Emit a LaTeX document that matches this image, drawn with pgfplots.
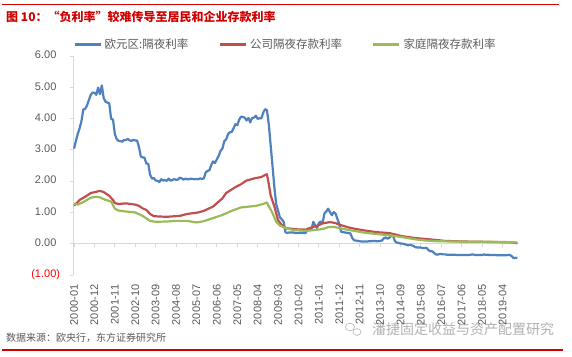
\documentclass[border=0pt]{standalone}
\usepackage{pgfplots}
\pgfplotsset{compat=1.18}
\usepackage{fontspec}
\setmainfont{Liberation Sans}
\newfontfamily\cjk{Noto Sans CJK SC}
\definecolor{eblue}{HTML}{4F81BD}
\definecolor{ered}{HTML}{C0504D}
\definecolor{egreen}{HTML}{9BBB59}
\definecolor{txtgray}{HTML}{595959}
\definecolor{axgray}{HTML}{D9D9D9}
\definecolor{hdred}{HTML}{D00000}
\begin{document}
\begin{tikzpicture}
\path[use as bounding box] (0pt,0pt) rectangle (572pt,356pt);
\draw[hdred, line width=1.1pt] (2pt,351.5pt) -- (559pt,351.5pt);
\draw[hdred, line width=1.1pt] (2pt,6pt) -- (563pt,6pt);
\node[anchor=west, inner sep=0pt, text=hdred] at (6pt,339pt) {\cjk\bfseries\fontsize{12}{14}\selectfont 图 10：“负利率”较难传导至居民和企业存款利率};
\node[anchor=west, inner sep=0pt, text=txtgray] at (6pt,18pt) {\cjk\fontsize{10}{12}\selectfont 数据来源：欧央行，东方证券研究所};
\node[anchor=west, inner sep=0pt, text=gray!60] at (372pt,27pt) {\cjk\fontsize{14}{16}\selectfont 潘捷固定收益与资产配置研究};
\draw[gray!60, line width=0.6pt] (350pt,29pt) ellipse (4.5pt and 3.8pt);
\draw[gray!60, line width=0.6pt] (357pt,24pt) ellipse (4pt and 3.4pt);
\begin{axis}[
  at={(73.1pt,81pt)}, anchor=south west,
  scale only axis, width=446.1pt, height=219pt,
  xmin=-0.5, xmax=240, ymin=-1, ymax=6,
  axis y line*=left, axis x line*=middle,
  hide obscured x ticks=false,
  axis line style={axgray, line width=0.8pt},
  ytick={-1,0,1,2,3,4,5,6},
  yticklabels={\textcolor{red}{(1.00)},0.00\phantom{)},1.00\phantom{)},2.00\phantom{)},3.00\phantom{)},4.00\phantom{)},5.00\phantom{)},6.00\phantom{)}},
  yticklabel style={anchor=east, xshift=-6pt, text=txtgray, font=\fontsize{11}{13}\selectfont},
  xtick={0,11,...,231},
  xticklabels={2000-01,2000-12,2001-11,2002-10,2003-09,2004-08,2005-07,2006-06,2007-05,2008-04,2009-03,2010-02,2011-01,2011-12,2012-11,2013-10,2014-09,2015-08,2016-07,2017-06,2018-05,2019-04},
  xticklabel style={rotate=90, anchor=east, text=txtgray, font=\fontsize{11}{13}\selectfont},
  xticklabel shift=34pt,
  tick style={axgray, line width=0.8pt},
  major tick length=3.5pt,
  tick align=outside,
  legend columns=3,
  legend style={at={(0,1.0525)}, anchor=west, draw=none, fill=none, inner sep=0pt,
    column sep=3pt, nodes={inner sep=0pt, text=txtgray, font=\cjk\fontsize{11.5}{13}\selectfont}},
  legend cell align=left,
  legend image code/.code={\draw[#1, line width=2.4pt] (0pt,0pt) -- (26pt,0pt);},
  every axis plot/.append style={line width=2.2pt, line join=round},
]
\addplot[eblue] table {
0 3.04
1 3.28
2 3.51
3 3.69
4 3.92
5 4.29
6 4.31
7 4.42
8 4.59
9 4.76
10 4.83
11 4.83
12 4.76
13 4.99
14 4.78
15 5.06
16 4.65
17 4.54
18 4.51
19 4.49
20 3.99
21 3.97
22 3.51
23 3.34
24 3.29
25 3.28
26 3.26
27 3.32
28 3.31
29 3.35
30 3.30
31 3.29
32 3.32
33 3.30
34 3.30
35 3.09
36 2.79
37 2.76
38 2.75
39 2.56
40 2.56
41 2.21
42 2.08
43 2.10
44 2.02
45 2.01
46 1.97
47 2.06
48 2.02
49 2.03
50 2.01
51 2.08
52 2.02
53 2.03
54 2.07
55 2.04
56 2.05
57 2.11
58 2.09
59 2.05
60 2.08
61 2.06
62 2.06
63 2.08
64 2.07
65 2.06
66 2.07
67 2.06
68 2.09
69 2.07
70 2.09
71 2.28
72 2.33
73 2.35
74 2.52
75 2.63
76 2.58
77 2.70
78 2.81
79 2.97
80 3.04
81 3.28
82 3.33
83 3.50
84 3.56
85 3.57
86 3.69
87 3.82
88 3.79
89 3.96
90 4.06
91 4.05
92 4.03
93 3.94
94 4.02
95 3.88
96 4.02
97 4.03
98 4.09
99 3.99
100 4.01
101 4.01
102 4.19
103 4.30
104 4.27
105 3.82
106 3.15
107 2.49
108 1.81
109 1.26
110 1.06
111 0.84
112 0.78
113 0.70
114 0.36
115 0.35
116 0.36
117 0.36
118 0.36
119 0.35
120 0.34
121 0.34
122 0.35
123 0.35
124 0.34
125 0.35
126 0.48
127 0.43
128 0.45
129 0.70
130 0.59
131 0.50
132 0.66
133 0.71
134 0.66
135 0.97
136 1.03
137 1.12
138 1.01
139 0.91
140 1.01
141 0.96
142 0.79
143 0.63
144 0.38
145 0.37
146 0.36
147 0.35
148 0.34
149 0.33
150 0.18
151 0.11
152 0.10
153 0.09
154 0.08
155 0.07
156 0.07
157 0.07
158 0.07
159 0.08
160 0.08
161 0.09
162 0.09
163 0.08
164 0.08
165 0.09
166 0.10
167 0.17
168 0.20
169 0.16
170 0.19
171 0.25
172 0.25
173 0.08
174 0.04
175 0.02
176 0.01
177 0.00
178 -0.01
179 -0.03
180 -0.05
181 -0.04
182 -0.05
183 -0.07
184 -0.11
185 -0.12
186 -0.12
187 -0.12
188 -0.14
189 -0.14
190 -0.13
191 -0.20
192 -0.24
193 -0.24
194 -0.29
195 -0.34
196 -0.35
197 -0.33
198 -0.33
199 -0.34
200 -0.34
201 -0.35
202 -0.35
203 -0.35
204 -0.35
205 -0.35
206 -0.36
207 -0.36
208 -0.36
209 -0.36
210 -0.36
211 -0.36
212 -0.36
213 -0.36
214 -0.35
215 -0.34
216 -0.36
217 -0.36
218 -0.36
219 -0.36
220 -0.36
221 -0.34
222 -0.36
223 -0.35
224 -0.36
225 -0.36
226 -0.36
227 -0.36
228 -0.37
229 -0.37
230 -0.37
231 -0.37
232 -0.37
233 -0.37
234 -0.36
235 -0.36
236 -0.40
237 -0.46
238 -0.45
239 -0.46
};
\addlegendentry{\makebox[111pt][l]{欧元区:隔夜利率}}
\addplot[ered] table {
0 1.22
2 1.33
3 1.40
6 1.50
9 1.62
12 1.66
14 1.69
16 1.65
19 1.53
21 1.40
22 1.30
24 1.27
28 1.29
33 1.25
35 1.21
37 1.13
39 1.08
41 0.95
43 0.88
46 0.87
50 0.86
57 0.89
61 0.95
67 1.00
70 1.05
75 1.19
80 1.45
82 1.62
87 1.81
90 1.90
93 2.02
98 2.10
101 2.13
103 2.20
104 2.22
105 1.90
106 1.55
108 1.19
110 0.75
112 0.60
114 0.50
117 0.48
120 0.46
125 0.45
128 0.52
131 0.57
134 0.65
138 0.69
141 0.66
143 0.61
148 0.52
152 0.47
157 0.42
163 0.37
170 0.34
177 0.24
184 0.18
190 0.15
195 0.12
200 0.09
210 0.07
220 0.06
230 0.05
237 0.04
239 0.01
};
\addlegendentry{\makebox[119pt][l]{公司隔夜存款利率}}
\addplot[egreen] table {
0 1.28
2 1.25
5 1.33
9 1.47
12 1.50
14 1.48
17 1.40
20 1.35
22 1.12
24 1.06
28 1.03
33 1.00
36 0.92
38 0.85
41 0.73
44 0.70
50 0.71
55 0.73
61 0.73
66 0.68
70 0.72
75 0.82
80 0.92
85 1.05
90 1.16
95 1.19
98 1.21
102 1.27
104 1.32
105 1.20
107 0.98
109 0.70
111 0.58
114 0.50
118 0.44
125 0.41
130 0.44
134 0.47
137 0.53
140 0.54
143 0.50
148 0.44
152 0.40
157 0.35
163 0.31
170 0.27
177 0.21
184 0.14
190 0.10
196 0.08
205 0.07
215 0.06
225 0.06
235 0.05
239 0.04
};
\addlegendentry{家庭隔夜存款利率}
\end{axis}
\end{tikzpicture}
\end{document}
